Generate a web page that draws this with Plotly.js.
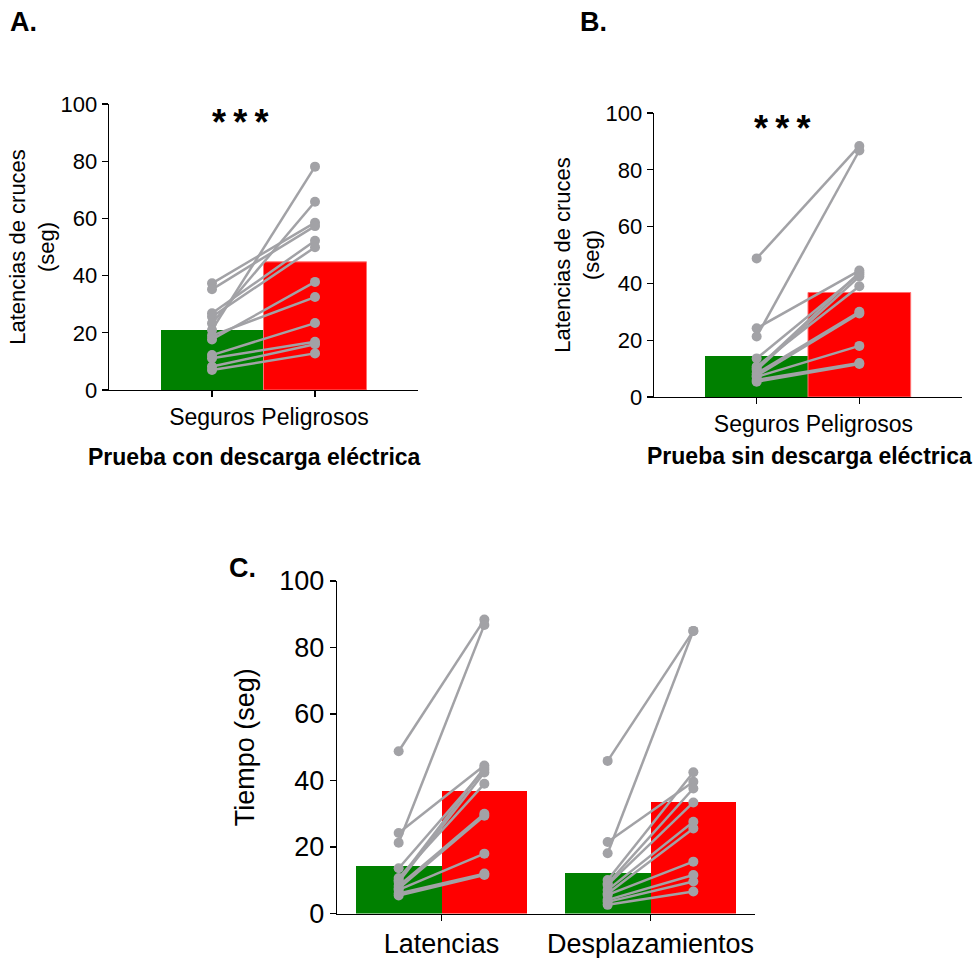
<!DOCTYPE html>
<html>
<head>
<meta charset="utf-8">
<script src="https://cdn.plot.ly/plotly-3.0.1.min.js"></script>
<style>html,body{margin:0;padding:0;background:#fff;}#chart{width:980px;height:958px;}</style>
</head>
<body>
<div id="chart"></div>
<script>
// ---------- DATA ----------
const categoriesAB = ['Seguros', 'Peligrosos'];
const categoriesC = ['Latencias', 'Desplazamientos'];

// Panel A: Prueba con descarga eléctrica
const barA = [20.9, 44.8];
const segurosA    = [37.3, 35.2, 26.8, 25.6, 23.3, 21.0, 19.0, 17.7, 12.2, 11.1, 8.2, 7.0];
const peligrososA = [58.5, 57.3, 52.2, 49.9, 65.8, 78.1, 32.5, 37.8, 23.4, 16.9, 16.0, 12.8];

// Panel B: Prueba sin descarga eléctrica
const barB = [14.4, 36.8];
const segurosB    = [48.8, 24.2, 21.3, 13.6, 10.7, 10.0, 9.5, 8.3, 7.5, 7.1, 6.0, 5.4];
const peligrososB = [88.4, 44.5, 86.8, 43.2, 39.0, 43.8, 42.4, 30.0, 29.4, 18.0, 12.0, 11.6];

// Panel C
const barCSeguros    = [14.4, 12.3];
const barCPeligrosos = [36.8, 33.4];
const segurosLat    = segurosB;
const peligrososLat = peligrososB;
const segurosDesp    = [45.9, 21.5, 18.1, 10.1, 9.0, 8.6, 7.1, 6.0, 5.6, 4.1, 3.5, 2.6];
const peligrososDesp = [85.0, 39.6, 85.0, 42.5, 37.6, 33.4, 27.6, 25.6, 15.6, 11.6, 9.6, 6.6];

// ---------- STYLE ----------
const GREEN = '#008000', RED = '#ff0000', GREY = '#a2a2a6';
const FONT = 'Liberation Sans, Arial, sans-serif';
const W = 980, H = 958;
const px = v => v / W;
const py = v => 1 - v / H;

const traces = [];

function pairedTraces(xa, ya, xLeft, xRight, left, right) {
  for (let i = 0; i < left.length; i++) {
    traces.push({
      type: 'scatter', mode: 'lines+markers', xaxis: xa, yaxis: ya,
      x: [xLeft, xRight], y: [left[i], right[i]],
      line: {color: GREY, width: 2.5},
      marker: {color: GREY, size: 10},
      showlegend: false, hoverinfo: 'y'
    });
  }
}

// Panel A bars
traces.push({type: 'bar', xaxis: 'x', yaxis: 'y', x: [0], y: [barA[0]], width: 1,
  marker: {color: GREEN, line: {width: 0}}, showlegend: false, name: categoriesAB[0]});
traces.push({type: 'bar', xaxis: 'x', yaxis: 'y', x: [1], y: [barA[1]], width: 1,
  marker: {color: RED, line: {color: '#ff7070', width: 1}}, showlegend: false, name: categoriesAB[1]});
pairedTraces('x', 'y', 0, 1, segurosA, peligrososA);

// Panel B bars
traces.push({type: 'bar', xaxis: 'x2', yaxis: 'y2', x: [0], y: [barB[0]], width: 1,
  marker: {color: GREEN, line: {width: 0}}, showlegend: false, name: categoriesAB[0]});
traces.push({type: 'bar', xaxis: 'x2', yaxis: 'y2', x: [1], y: [barB[1]], width: 1,
  marker: {color: RED, line: {color: '#ff7070', width: 1}}, showlegend: false, name: categoriesAB[1]});
pairedTraces('x2', 'y2', 0, 1, segurosB, peligrososB);

// Panel C bars (grouped around category positions)
const half = 0.205, bw = 0.41;
traces.push({type: 'bar', xaxis: 'x3', yaxis: 'y3', x: categoriesC.map((c, i) => i - half), y: barCSeguros, width: bw,
  marker: {color: GREEN, line: {width: 0}}, showlegend: false, name: 'Seguros'});
traces.push({type: 'bar', xaxis: 'x3', yaxis: 'y3', x: categoriesC.map((c, i) => i + half), y: barCPeligrosos, width: bw,
  marker: {color: RED, line: {width: 0}}, showlegend: false, name: 'Peligrosos'});
pairedTraces('x3', 'y3', 0 - half, 0 + half, segurosLat, peligrososLat);
pairedTraces('x3', 'y3', 1 - half, 1 + half, segurosDesp, peligrososDesp);

function yAxis(domain, anchor, title, fs, tfs, standoff) {
  return {
    domain: domain, anchor: anchor, range: [0, 100], tickvals: [0, 20, 40, 60, 80, 100],
    showline: true, linecolor: '#000', linewidth: 1.3, ticks: 'outside', ticklen: 6, tickwidth: 1.3,
    tickcolor: '#000', showgrid: false, zeroline: false, automargin: false,
    tickfont: {family: FONT, size: fs, color: '#000'},
    title: {text: title, font: {family: FONT, size: tfs, color: '#000'}, standoff: standoff}
  };
}
function xAxis(domain, anchor, range, labels, fs) {
  return {
    domain: domain, anchor: anchor, range: range, tickvals: labels.map((l, i) => i), ticktext: labels,
    showline: true, linecolor: '#000', linewidth: 1.3, ticks: 'outside', ticklen: 6, tickwidth: 1.3,
    tickcolor: '#000', showgrid: false, zeroline: false, automargin: false,
    tickfont: {family: FONT, size: fs, color: '#000'}
  };
}

const STARS = '*\u2009*\u2009*';

const layout = {
  width: W, height: H,
  margin: {l: 0, r: 0, t: 0, b: 0},
  paper_bgcolor: '#fff', plot_bgcolor: 'rgba(0,0,0,0)',
  barmode: 'overlay', bargap: 0,
  font: {family: FONT, color: '#000'},
  xaxis:  xAxis([px(109), px(418)], 'y', [-1, 2], categoriesAB, 23),
  yaxis:  yAxis([py(390), py(104)], 'x', 'Latencias de cruces<br>(seg)', 22, 22, 0),
  xaxis2: xAxis([px(654), px(962)], 'y2', [-1, 2], categoriesAB, 23),
  yaxis2: yAxis([py(397), py(113)], 'x2', 'Latencias de cruces<br>(seg)', 22, 22, 0),
  xaxis3: xAxis([px(337), px(755)], 'y3', [-0.5, 1.5], categoriesC, 27),
  yaxis3: yAxis([py(913.5), py(581)], 'x3', 'Tiempo (seg)', 27, 27, 16),
  annotations: [
    {text: '<b>A.</b>', xref: 'paper', yref: 'paper', x: px(8), y: py(22), xanchor: 'left', yanchor: 'middle', showarrow: false, font: {family: FONT, size: 27}},
    {text: '<b>B.</b>', xref: 'paper', yref: 'paper', x: px(578), y: py(22), xanchor: 'left', yanchor: 'middle', showarrow: false, font: {family: FONT, size: 27}},
    {text: '<b>C.</b>', xref: 'paper', yref: 'paper', x: px(227), y: py(568), xanchor: 'left', yanchor: 'middle', showarrow: false, font: {family: FONT, size: 27}},
    {text: '<b>' + STARS + '</b>', xref: 'paper', yref: 'paper', x: px(240), y: py(123), xanchor: 'center', yanchor: 'middle', showarrow: false, font: {family: FONT, size: 36}},
    {text: '<b>' + STARS + '</b>', xref: 'paper', yref: 'paper', x: px(782), y: py(128), xanchor: 'center', yanchor: 'middle', showarrow: false, font: {family: FONT, size: 36}},
    {text: '<b>Prueba con descarga eléctrica</b>', xref: 'paper', yref: 'paper', x: px(254), y: py(457), xanchor: 'center', yanchor: 'middle', showarrow: false, font: {family: FONT, size: 23}},
    {text: '<b>Prueba sin descarga eléctrica</b>', xref: 'paper', yref: 'paper', x: px(809), y: py(456), xanchor: 'center', yanchor: 'middle', showarrow: false, font: {family: FONT, size: 23}}
  ]
};

Plotly.newPlot('chart', traces, layout, {displayModeBar: false, staticPlot: true});
</script>
</body>
</html>
